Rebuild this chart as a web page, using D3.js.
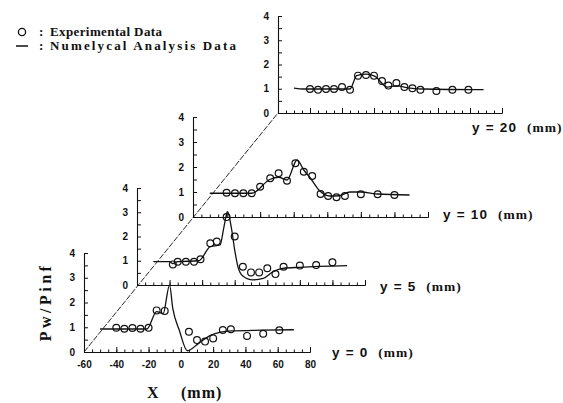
<!DOCTYPE html>
<html>
<head>
<meta charset="utf-8">
<script src="https://cdn.jsdelivr.net/npm/d3@7"></script>
<style>
  body { margin: 0; background: #fff; }
  svg { display: block; }
  .tick text { font-family: "Liberation Sans", Arial, sans-serif; font-weight: bold; font-size: 10px; }
  .serif { font-family: "Liberation Serif", "Times New Roman", serif; font-weight: bold; }
</style>
</head>
<body>
<svg class="visualization" width="563" height="403"></svg>
<script>
    // y position of each slice (mm)
    var yLevels = [0, 5, 10, 20];

    // experimental data, [X (mm), Pw/Pinf]
    var exp0 = [[-40, 0.98], [-35, 0.94], [-30, 0.97], [-25, 0.94], [-20, 0.98], [-15, 1.68], [-10, 1.66],
                [5, 0.82], [10, 0.48], [15, 0.42], [20, 0.55], [26, 0.89], [31, 0.92], [41, 0.65], [51, 0.74], [61, 0.88]];
    var exp5 = [[-38, 0.85], [-35, 0.96], [-30, 0.96], [-25, 0.96], [-21, 1.06], [-15, 1.72], [-11, 1.79],
                [-5, 2.8], [0, 2.0], [5, 0.75], [10, 0.52], [15, 0.52], [20, 0.69], [25, 0.45], [30, 0.75],
                [40, 0.8], [50, 0.82], [60, 0.94]];
    var exp10 = [[-40, 0.97], [-35, 0.95], [-30, 0.95], [-25, 0.95], [-20, 1.21], [-14, 1.55], [-9, 1.75],
                 [-4, 1.45], [1, 2.15], [6, 1.81], [11, 1.64], [16, 0.92], [20.5, 0.84], [25.5, 0.79],
                 [30.5, 0.84], [40, 0.91], [50, 0.91], [60, 0.88]];
    var exp20 = [[-40, 0.99], [-35, 0.96], [-30, 0.99], [-25, 0.99], [-20, 1.07], [-15, 0.96], [-10, 1.54],
                 [-5, 1.57], [0, 1.54], [5, 1.32], [9, 1.13], [14, 1.24], [19, 1.07], [24, 1.02], [29, 0.96],
                 [39, 0.91], [49, 0.96], [59, 0.96]];

    // numerical analysis curves, [X (mm), Pw/Pinf]
    var num0 = [[-50, 0.93], [-21, 0.93], [-15, 1.63], [-11, 1.55], [-7, 2.7], [-5, 1.76], [-1, 0.89],
                [4, 0.05], [11, 0.35], [19, 0.69], [31, 0.85], [50, 0.88], [70, 0.9]];
    var num5 = [[-50, 0.96], [-40, 0.96], [-38, 0.88], [-35, 0.96], [-22, 1.0], [-15, 1.58], [-9, 1.65],
                [-6.6, 2.4], [-4.4, 3.02], [-2, 2.34], [0, 1.44], [2, 0.75], [5, 0.37], [11, 0.21],
                [17.5, 0.27], [23.6, 0.55], [30, 0.69], [40, 0.73], [69, 0.8]];
    var num10 = [[-50, 0.95], [-25, 0.95], [-14, 1.51], [-9, 1.59], [-4, 1.48], [2, 2.28], [6, 1.88],
                 [10, 1.55], [15, 1.08], [21.5, 0.84], [27, 0.85], [33.5, 1.0], [40, 1.0], [50, 0.92], [69, 0.88]];
    var num20 = [[-50, 1.03], [-44, 0.99], [-15, 0.99], [-10.8, 1.54], [-4.6, 1.6], [0.6, 1.51], [8.3, 1.07],
                 [14, 1.12], [22.5, 1.03], [31, 0.99], [68.5, 0.96]];

    var xDomain = [-60, 80];
    var pDomain = [0, 4];
    var xTickLabels = [-60, -40, -20, 0, 20, 40, 60, 80];
    var pTickLabels = [0, 1, 2, 3, 4];
    var legendLabels = ["Experimental Data", "Numelycal Analysis Data"];

    var expData = [exp0, exp5, exp10, exp20];
    var numData = [num0, num5, num10, num20];

    // where each slice sits on the page (oblique stacking)
    var layout = [
        { ox: 84,  oy: 352, w: 226, h: 99, lx: 332, ly: 357 },
        { ox: 137, oy: 285, w: 228, h: 97, lx: 380, ly: 291 },
        { ox: 193, oy: 217, w: 235, h: 100, lx: 443, ly: 219 },
        { ox: 278, oy: 113, w: 224, h: 97, lx: 472, ly: 132 }
    ];

    var svg = d3.select(".visualization");

    // diagonal through the origins
    svg.append("line")
        .attr("x1", layout[0].ox).attr("y1", layout[0].oy)
        .attr("x2", layout[3].ox).attr("y2", layout[3].oy)
        .attr("stroke", "#111")
        .attr("stroke-width", 0.9)
        .attr("stroke-dasharray", "6,1.5");

    yLevels.forEach(function (yl, k) {
        var L = layout[k];
        var xScale = d3.scaleLinear().domain(xDomain).range([L.ox, L.ox + L.w]);
        var yScale = d3.scaleLinear().domain(pDomain).range([L.oy, L.oy - L.h]);
        var g = svg.append("g");

        // y axis, ticks pointing inward
        g.append("g")
            .attr("transform", "translate(" + L.ox + ",0)")
            .call(d3.axisLeft(yScale)
                .tickValues(d3.range(0, 4.01, 0.5))
                .tickSizeInner(-4).tickSizeOuter(0).tickPadding(9)
                .tickFormat(function (d) { return pTickLabels.indexOf(d) >= 0 ? d : ""; }));

        // x axis minor ticks
        g.append("g")
            .attr("transform", "translate(0," + L.oy + ")")
            .call(d3.axisBottom(xScale)
                .tickValues(d3.range(-60, 81, 5))
                .tickSizeInner(-2.5).tickSizeOuter(0)
                .tickFormat(""));

        // x axis major ticks (labels only on the front slice)
        g.append("g")
            .attr("transform", "translate(0," + L.oy + ")")
            .call(d3.axisBottom(xScale)
                .tickValues(xTickLabels)
                .tickSizeInner(-5).tickSizeOuter(0).tickPadding(9)
                .tickFormat(function (d) { return k === 0 ? d : ""; }));

        g.selectAll(".domain").attr("stroke", "#111").attr("stroke-width", 1.1);
        g.selectAll(".tick line").attr("stroke", "#111").attr("stroke-width", 1);
        g.selectAll(".tick text").attr("fill", "#111");

        var line = d3.line()
            .x(function (d) { return xScale(d[0]); })
            .y(function (d) { return yScale(d[1]); })
            .curve(d3.curveMonotoneX);

        g.append("path")
            .datum(numData[k])
            .attr("d", line)
            .attr("fill", "none")
            .attr("stroke", "#111")
            .attr("stroke-width", 1.3);

        g.selectAll("circle")
            .data(expData[k])
            .enter()
            .append("circle")
            .attr("cx", function (d) { return xScale(d[0]); })
            .attr("cy", function (d) { return yScale(d[1]); })
            .attr("r", 3.4)
            .attr("fill", "none")
            .attr("stroke", "#111")
            .attr("stroke-width", 1.2);

        var lab = svg.append("text")
            .attr("x", L.lx).attr("y", L.ly)
            .attr("fill", "#111")
            .style("white-space", "pre");
        lab.append("tspan")
            .attr("font-family", "Liberation Sans, Arial, sans-serif")
            .attr("font-weight", "bold")
            .attr("font-size", 13.5)
            .attr("letter-spacing", 1.2)
            .text("y = " + yl + "  ");
        lab.append("tspan")
            .attr("class", "serif")
            .attr("font-size", 13.5)
            .attr("letter-spacing", 1)
            .text("(mm)");
    });

    // legend
    svg.append("circle").attr("cx", 22).attr("cy", 32).attr("r", 3.6)
        .attr("fill", "none").attr("stroke", "#111").attr("stroke-width", 1.3);
    svg.append("line").attr("x1", 16).attr("x2", 28).attr("y1", 46).attr("y2", 46)
        .attr("stroke", "#111").attr("stroke-width", 1.5);

    var legendW = [112, 186];
    legendLabels.forEach(function (t, i) {
        var yy = 36 + i * 14;
        svg.append("text").attr("class", "serif").attr("x", 39).attr("y", yy)
            .attr("font-size", 13).attr("fill", "#111").text(":");
        svg.append("text").attr("class", "serif").attr("x", 50).attr("y", yy)
            .attr("font-size", 13).attr("fill", "#111")
            .attr("textLength", legendW[i]).attr("lengthAdjust", "spacing")
            .text(t);
    });

    // axis titles
    svg.append("text").attr("class", "serif")
        .attr("transform", "translate(51,302) rotate(-90)")
        .attr("text-anchor", "middle")
        .attr("font-size", 16).attr("letter-spacing", 3.5)
        .attr("fill", "#111")
        .text("Pw/Pinf");
    svg.append("text").attr("class", "serif")
        .attr("x", 147).attr("y", 398)
        .attr("font-size", 16).attr("fill", "#111")
        .text("X");
    svg.append("text").attr("class", "serif")
        .attr("x", 181).attr("y", 398)
        .attr("font-size", 16).attr("letter-spacing", 1)
        .attr("fill", "#111")
        .text("(mm)");
</script>
</body>
</html>
